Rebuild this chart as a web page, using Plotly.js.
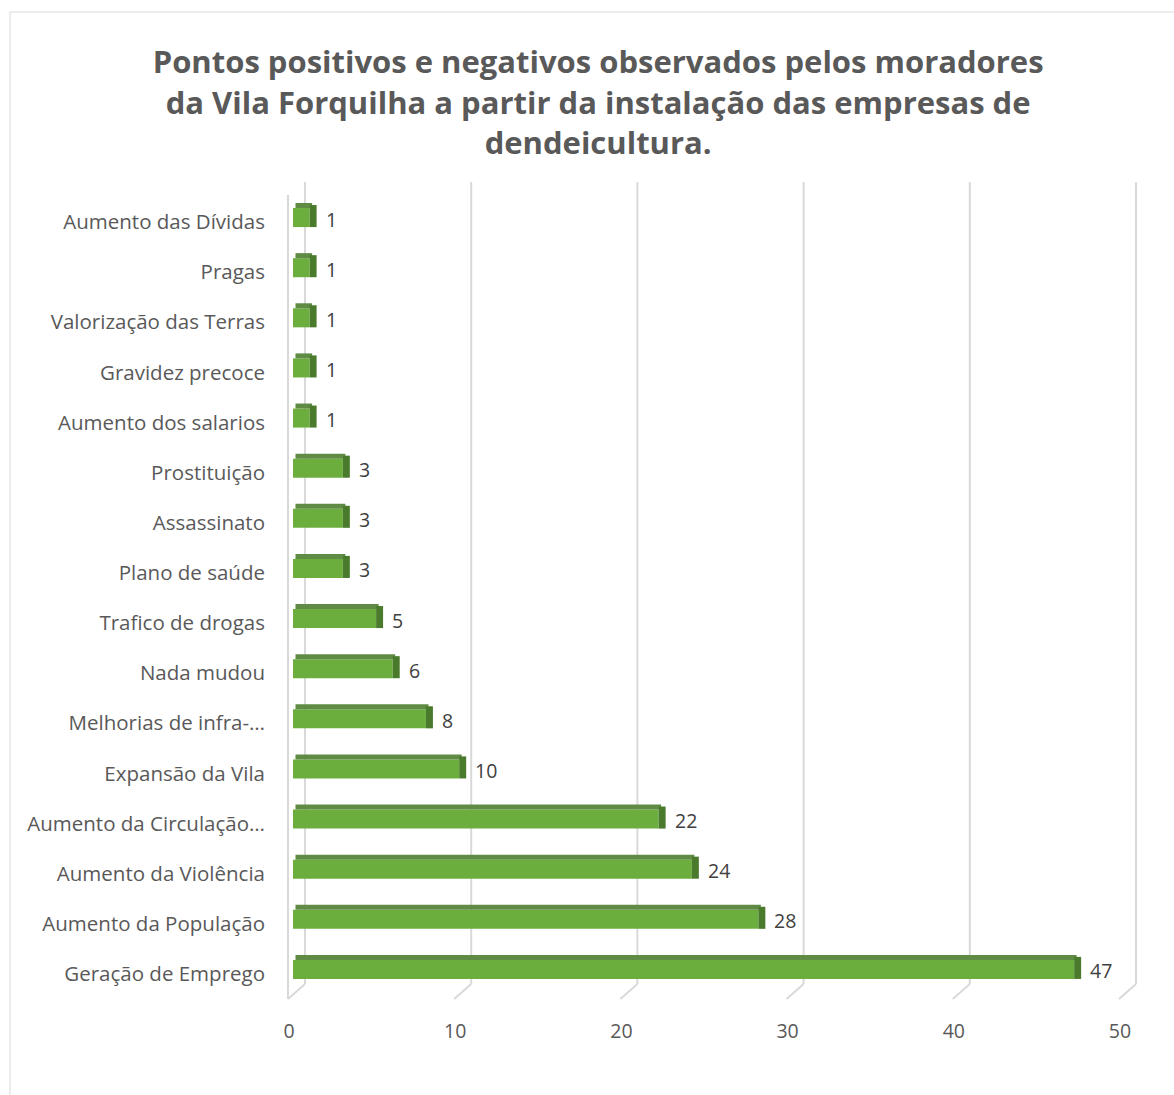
<!DOCTYPE html>
<html>
<head>
<meta charset="utf-8">
<script src="https://cdn.plot.ly/plotly-3.0.1.min.js"></script>
<style>html,body{margin:0;padding:0;background:#fff;}#chart{width:1174px;height:1095px;}</style>
</head>
<body>
<div id="chart"></div>
<script>
// Data (bottom to top, as drawn)
const categories = [
  "Geração de Emprego",
  "Aumento da População",
  "Aumento da Violência",
  "Aumento da Circulação…",
  "Expansão da Vila",
  "Melhorias de infra-…",
  "Nada mudou",
  "Trafico de drogas",
  "Plano de saúde",
  "Assassinato",
  "Prostituição",
  "Aumento dos salarios",
  "Gravidez precoce",
  "Valorização das Terras",
  "Pragas",
  "Aumento das Dívidas"
];
const values = [47, 28, 24, 22, 10, 8, 6, 5, 3, 3, 3, 1, 1, 1, 1, 1];
const xTicks = [0, 10, 20, 30, 40, 50];
const titleText = "Pontos positivos e negativos observados pelos moradores<br>da Vila Forquilha a partir da instalação das empresas de<br>dendeicultura.";

const FONT = "Open Sans, Liberation Sans, sans-serif";
const nCat = categories.length;

// front face
const frontFace = {
  type: "bar", orientation: "h",
  y: categories, x: values,
  width: 0.38, offset: -0.14,
  marker: {color: "#6cae3e", line: {width: 0}},
  hoverinfo: "skip", showlegend: false
};
// top face (3D depth)
const topFace = {
  type: "bar", orientation: "h",
  y: categories, x: values, base: 0.15,
  width: 0.1, offset: 0.24,
  marker: {color: "#5f8b45", line: {width: 0}},
  hoverinfo: "skip", showlegend: false
};
// right side face
const sideFace = {
  type: "bar", orientation: "h",
  y: categories, x: categories.map(() => 0.42), base: values,
  width: 0.44, offset: -0.14,
  marker: {color: "#4a7b2c", line: {width: 0}},
  hoverinfo: "skip", showlegend: false
};

// value labels
const valueLabels = values.map((v, i) => ({
  x: v, y: categories[i], xref: "x", yref: "y",
  text: String(v), showarrow: false, xanchor: "left", yanchor: "middle",
  xshift: 14, yshift: 1,
  font: {family: FONT, size: 19.5, color: "#404040"}
}));

const shapes = [];
// back wall gridlines and floor edges
xTicks.forEach(v => {
  shapes.push({type: "line", layer: "below", xref: "x", xsizemode: "pixel", xanchor: v,
    x0: 12, x1: 12, yref: "paper", y0: 0.0162, y1: 1.0162,
    line: {color: "#d9d9d9", width: 2}});
  shapes.push({type: "line", layer: "below", xref: "x", xsizemode: "pixel", xanchor: v,
    x0: 12, x1: -5, yref: "paper", y0: 0.0162, y1: -0.0025,
    line: {color: "#d9d9d9", width: 2}});
});
// left wall front edge
shapes.push({type: "line", layer: "below", xref: "x", xsizemode: "pixel", xanchor: 0,
  x0: -5, x1: -5, yref: "paper", y0: 1.0, y1: -0.0025,
  line: {color: "#d9d9d9", width: 2}});
// chart border
shapes.push({type: "rect", layer: "below", xref: "paper", yref: "paper",
  x0: -0.3228, x1: 1.2, y0: 1.2282, y1: -0.2,
  line: {color: "#d9d9d9", width: 1}, fillcolor: "rgba(0,0,0,0)"});

const layout = {
  width: 1174, height: 1095,
  paper_bgcolor: "#ffffff", plot_bgcolor: "rgba(0,0,0,0)",
  margin: {l: 286, r: 33, t: 195, b: 98},
  barmode: "overlay",
  title: {text: titleText, x: 0.5095, xanchor: "center", y: 0.933, yanchor: "middle",
    font: {family: FONT, size: 31, color: "#595959", weight: "bold"}},
  xaxis: {range: [-0.4212, 51.023], tickvals: xTicks, showgrid: false, zeroline: false, showline: false,
    ticks: "", ticklabelstandoff: 20, ticklabelshift: -4,
    tickfont: {family: FONT, size: 19.5, color: "#595959"}, fixedrange: true},
  yaxis: {type: "category", categoryorder: "array", categoryarray: categories,
    range: [-0.5, nCat - 0.5], showgrid: false, zeroline: false, showline: false,
    ticks: "", ticklabelstandoff: 20, ticklabelshift: 2,
    tickfont: {family: FONT, size: 20.5, color: "#595959"}, fixedrange: true},
  shapes: shapes,
  annotations: valueLabels,
  showlegend: false
};

Plotly.newPlot("chart", [frontFace, topFace, sideFace], layout, {displayModeBar: false, staticPlot: true});
</script>
</body>
</html>
